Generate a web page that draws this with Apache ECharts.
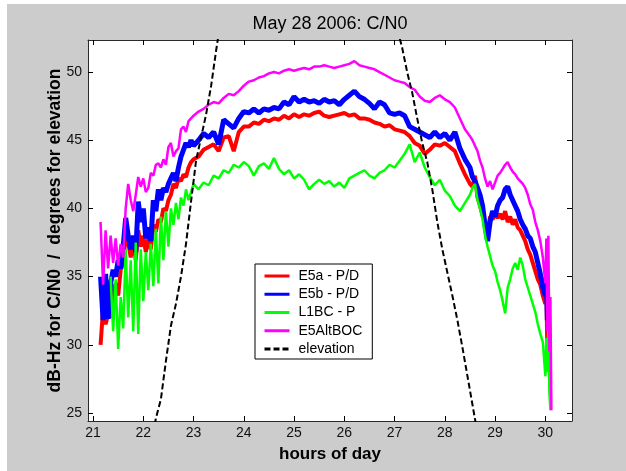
<!DOCTYPE html>
<html><head><meta charset="utf-8">
<script src="https://cdn.jsdelivr.net/npm/echarts@6/dist/echarts.min.js"></script>
<style>
html,body{margin:0;padding:0;background:#fff;width:626px;height:471px;overflow:hidden;}
#wrap{position:absolute;left:7px;top:4px;width:619px;height:467px;background:#cccccc;}
#chart{width:619px;height:467px;}
</style></head><body>
<div id="wrap"><div id="chart"></div></div>
<script>
// ---- data ----
const hours = [
  21.15,21.20,21.25,21.30,21.35,21.40,21.45,21.50,21.55,21.60,21.65,21.70,21.75,21.80,21.85,21.90,21.95,22.00,22.05,22.10,
  22.15,22.20,22.25,22.30,22.35,22.40,22.45,22.50,22.55,22.60,22.65,22.70,22.75,22.80,22.85,22.90,22.95,23.00,
  23.1,23.2,23.3,23.4,23.5,23.6,23.7,23.8,23.9,24.0,24.1,24.2,24.3,24.4,24.5,24.6,24.7,24.8,24.9,25.0,
  25.1,25.2,25.3,25.4,25.5,25.6,25.7,25.8,25.9,26.0,26.1,26.2,26.3,26.4,26.5,26.6,26.7,26.8,26.9,27.0,
  27.1,27.2,27.3,27.4,27.5,27.6,27.7,27.8,27.9,28.0,28.1,28.2,28.3,28.4,28.5,
  28.55,28.60,28.65,28.70,28.75,28.80,28.85,28.90,28.95,29.00,29.05,29.10,29.15,29.20,29.25,29.30,29.35,29.40,29.45,29.50,
  29.55,29.60,29.65,29.70,29.75,29.80,29.85,29.90,29.95,30.00,30.02,30.04,30.06,30.08,30.10,30.12
];
const e5a = [
  30.0,32.6,31.5,32.2,32.0,33.8,34.5,33.6,35.5,36.0,38.0,37.5,36.4,37.8,36.2,38.4,37.2,38.0,36.8,37.8,
  37.0,38.8,38.3,39.2,39.0,40.0,39.8,40.6,41.0,41.8,41.5,42.2,42.0,42.5,42.3,43.0,43.4,43.6,
  43.8,44.3,44.5,44.7,44.2,45.2,45.3,44.2,45.6,46.0,46.0,46.3,46.2,46.5,46.4,46.6,46.5,46.8,46.6,46.9,
  46.7,46.9,46.8,47.0,47.1,46.8,46.7,46.8,46.9,47.0,46.8,46.9,46.6,46.6,46.5,46.3,46.2,46.0,46.1,45.8,
  45.7,45.6,45.3,44.8,44.6,44.0,44.3,44.7,44.6,44.8,44.5,44.2,43.3,42.5,41.8,
  41.6,42.4,40.8,40.2,39.5,39.0,38.2,39.4,39.2,39.6,39.3,39.6,39.2,39.8,39.0,39.4,38.8,39.2,38.6,38.4,
  38.0,37.6,37.0,36.6,36.0,35.4,34.8,34.4,33.6,33.0,34.0,29.4,32.0,null,null,null
];
const e5b = [
  35.0,31.8,35.2,31.9,34.5,35.5,35.0,36.2,35.6,37.2,39.3,38.0,37.0,38.0,36.8,40.5,39.0,40.0,37.8,38.6,
  37.6,40.6,39.8,41.4,40.6,41.5,41.2,41.8,42.2,42.6,42.0,43.0,43.8,44.3,44.8,44.5,45.0,44.6,
  45.0,45.5,45.2,45.6,44.7,46.5,46.2,45.9,46.6,47.1,47.0,47.3,47.0,47.3,47.2,47.4,47.3,47.8,47.6,48.2,
  47.8,48.0,47.8,47.9,47.7,48.0,47.8,47.9,47.6,48.0,48.3,48.6,48.2,48.0,47.7,47.3,47.8,47.6,47.0,46.9,
  47.0,46.8,46.0,45.8,45.6,45.4,45.2,45.6,45.2,45.5,45.0,45.6,44.4,43.6,43.0,
  42.3,42.0,41.5,41.0,40.2,38.8,37.6,39.0,39.8,39.4,40.2,40.6,40.8,41.4,41.6,41.0,40.6,40.2,39.8,39.2,
  38.8,38.5,38.0,37.8,37.2,36.8,36.0,35.2,34.2,33.6,35.0,31.8,33.5,null,null,null
];
const l1bc = [
  null,null,null,null,35.0,31.0,34.8,29.7,33.5,31.2,37.0,32.0,36.2,31.0,37.5,30.8,37.0,33.2,36.8,34.0,
  37.4,34.3,38.5,34.5,39.4,36.2,39.8,37.2,40.0,38.8,40.4,39.2,40.8,40.2,41.4,40.6,41.2,41.8,
  41.4,41.9,41.7,42.4,42.2,42.8,42.6,43.2,43.0,43.4,43.1,42.4,43.1,43.3,42.9,43.7,42.9,42.5,42.8,42.2,
  42.5,42.1,41.4,41.8,42.1,41.8,42.0,41.6,41.9,41.5,42.2,42.4,42.6,42.8,42.4,42.2,42.6,42.8,43.2,43.0,
  43.5,44.0,44.7,43.4,44.1,43.0,42.3,41.7,42.1,41.3,40.9,40.2,39.8,40.4,41.0,
  41.5,41.8,40.6,40.0,39.2,38.0,37.2,36.5,35.8,35.4,34.6,34.0,33.2,32.3,34.2,34.8,35.6,36.0,35.5,36.4,
  35.8,34.8,34.2,33.6,33.0,32.4,31.5,30.8,30.2,27.7,30.5,28.0,31.3,26.5,25.2,null
];
const e5altboc = [
  39.0,34.4,38.4,35.6,38.0,36.0,37.8,35.8,37.4,36.4,40.0,41.8,40.6,39.8,41.0,42.3,41.6,42.2,41.2,41.5,
  42.6,42.4,43.2,43.3,43.0,43.6,43.2,44.5,44.8,43.8,44.2,44.4,45.8,46.0,45.6,46.4,46.6,46.8,
  47.1,47.3,47.6,47.8,47.7,48.1,48.4,48.3,48.6,49.0,49.3,49.4,49.6,49.7,49.9,50.0,49.9,50.1,50.2,50.1,
  50.2,50.3,50.2,50.4,50.4,50.5,50.4,50.3,50.4,50.5,50.6,50.8,50.5,50.4,50.3,50.2,50.0,49.8,49.6,49.4,
  49.3,49.2,48.9,48.7,48.2,47.9,47.8,48.1,48.3,48.0,47.8,47.4,46.6,45.8,45.3,
  45.0,44.6,44.2,43.5,43.0,42.2,41.6,42.0,41.4,41.9,42.4,42.6,42.9,43.2,43.4,43.0,42.7,42.5,42.2,42.0,
  41.8,41.5,41.0,40.3,39.9,39.0,38.4,37.6,36.4,34.5,37.8,31.0,38.0,29.5,33.5,25.2
];
const elevHours = [22.20,22.25,22.35,22.45,22.55,22.65,22.75,22.85,22.95,23.05,23.15,23.25,23.35,23.45,23.55,23.8,24.3,25.0,25.6,26.2,26.7,26.95,
  27.05,27.15,27.25,27.35,27.45,27.55,27.65,27.75,27.85,27.95,28.05,28.15,28.25,28.35,28.45,28.55,28.65];
const elevDeg = [23.5,24.6,26.0,28.8,31.4,33.0,35.0,37.4,40.5,43.5,45.2,46.9,49.0,51.6,54.0,59,66,72,74,70,63,55.0,
  53.2,51.8,50.0,48.5,46.6,44.8,43.4,41.4,39.0,37.0,35.3,33.6,31.8,29.8,27.7,25.6,23.5];
const seriesNames = ['E5a - P/D','E5b - P/D','L1BC - P','E5AltBOC','elevation'];
const xTicks = [21,22,23,24,25,26,27,28,29,30];
const yTicks = [25,30,35,40,45,50];
const X_MIN = 20.9, X_MAX = 30.53, Y_MIN = 24.41, Y_MAX = 52.35;

// ---- chart ----
const FONT = "'Liberation Sans', Arial, Helvetica, sans-serif";
function pairs(xs, ys){ return xs.map((x,i)=>[x, ys[i]]).filter(p => p[1] !== null); }
const chart = echarts.init(document.getElementById('chart'), null, {renderer:'canvas'});
const axisLine = {show:true, onZero:false, lineStyle:{color:'#2a2a2a', width:1}};
function lineSeries(name, ys, color, width){
  return {name, type:'line', data:pairs(hours, ys), symbol:'none', showSymbol:false,
    lineStyle:{color, width}, itemStyle:{color}, silent:true, animation:false,
    xAxisIndex:0, yAxisIndex:0};
}
chart.setOption({
  animation:false,
  textStyle:{fontFamily:FONT},
  title:{text:'May 28 2006: C/N0', left:318, top:6, textAlign:'center',
    textStyle:{fontSize:18, fontWeight:'normal', color:'#000', fontFamily:FONT}},
  grid:{left:81, top:36, width:484, height:381, show:true, backgroundColor:'#ffffff', borderWidth:0},
  legend:{orient:'vertical', left:248, top:260, backgroundColor:'#ffffff', borderColor:'#000', borderWidth:1,
    padding:[5,10,3,8], itemWidth:25, itemHeight:14, itemGap:4.25,
    lineStyle:{width:3},
    itemStyle:{opacity:0, borderWidth:0},
    textStyle:{fontSize:14, color:'#000', fontFamily:FONT, padding:[0,0,0,4]},
    data:seriesNames},
  xAxis:[
    {type:'value', position:'bottom', min:X_MIN, max:X_MAX, axisLine,
     axisTick:{show:true, inside:true, length:5, customValues:xTicks, lineStyle:{color:'#000'}},
     axisLabel:{show:true, customValues:xTicks, margin:5, fontSize:14, color:'#111', fontFamily:FONT},
     splitLine:{show:false},
     name:'hours of day', nameLocation:'middle', nameGap:25, nameMoveOverlap:false,
     nameTextStyle:{fontSize:17, fontWeight:'bold', color:'#000', fontFamily:FONT}},
    {type:'value', position:'top', min:X_MIN, max:X_MAX, axisLine,
     axisTick:{show:true, inside:true, length:5, customValues:xTicks, lineStyle:{color:'#000'}},
     axisLabel:{show:false}, splitLine:{show:false}}
  ],
  yAxis:[
    {type:'value', position:'left', min:Y_MIN, max:Y_MAX, axisLine,
     axisTick:{show:true, inside:true, length:5, customValues:yTicks, lineStyle:{color:'#000'}},
     axisLabel:{show:true, customValues:yTicks, margin:6, fontSize:14, color:'#111', fontFamily:FONT},
     splitLine:{show:false},
     name:'dB-Hz for C/N0  /  degrees for elevation', nameLocation:'middle', nameGap:24, nameRotate:90,
     nameMoveOverlap:false,
     nameTextStyle:{fontSize:17.5, fontWeight:'bold', color:'#000', fontFamily:FONT}},
    {type:'value', position:'right', min:Y_MIN, max:Y_MAX, axisLine,
     axisTick:{show:true, inside:true, length:5, customValues:yTicks, lineStyle:{color:'#000'}},
     axisLabel:{show:false}, splitLine:{show:false}}
  ],
  series:[
    lineSeries(seriesNames[0], e5a, '#ff0000', 4),
    lineSeries(seriesNames[1], e5b, '#0000ff', 5),
    lineSeries(seriesNames[2], l1bc, '#00ff00', 2.5),
    lineSeries(seriesNames[3], e5altboc, '#ff00ff', 2.5),
    {name:seriesNames[4], type:'line', data:pairs(elevHours, elevDeg), symbol:'none', showSymbol:false,
     lineStyle:{color:'#000', width:2, type:[6,3]}, itemStyle:{color:'#000'}, silent:true,
     xAxisIndex:0, yAxisIndex:0, clip:true}
  ]
});
</script>
</body></html>
